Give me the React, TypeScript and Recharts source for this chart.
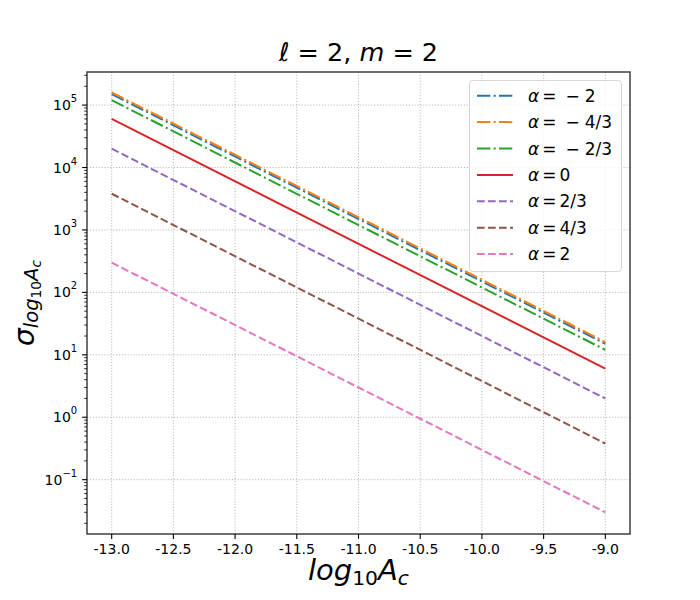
import React from 'react';
import { LineChart, Line, XAxis, YAxis, CartesianGrid, ReferenceArea } from 'recharts';

// x positions (log10 A_c)
const xValues = [-13, -9];

// sigma values per alpha, at x = -13 and x = -9
const alphaMinus2 = [1.5e5, 15];
const alphaMinus4_3 = [1.6e5, 16];
const alphaMinus2_3 = [1.2e5, 12];
const alpha0 = [6e4, 6];
const alpha2_3 = [2e4, 2];
const alpha4_3 = [3.8e3, 0.38];
const alpha2 = [300, 0.03];

const xTicks = [-13, -12.5, -12, -11.5, -11, -10.5, -10, -9.5, -9];
const yExponents = [-1, 0, 1, 2, 3, 4, 5];
const yMajorTicks = yExponents.map((e) => Math.pow(10, e));
const yMinorTicks: number[] = [];
[-2, -1, 0, 1, 2, 3, 4, 5].forEach((e) => {
  for (let k = 2; k <= 9; k++) yMinorTicks.push(k * Math.pow(10, e));
});

const X_DOMAIN = [-13.2, -8.8];
const Y_DOMAIN = [Math.pow(10, -1.87), Math.pow(10, 5.53)];
const yAllTicks = [...yMajorTicks, ...yMinorTicks].filter((v) => v >= Y_DOMAIN[0] && v <= Y_DOMAIN[1]).sort((a, b) => a - b);

const FONT = "'DejaVu Sans', sans-serif";

const DASHDOT = '13.3 3.3 2.1 3.3';
const DASHED = '7.7 3.3';

type SeriesDef = { key: string; values: number[]; color: string; dash?: string; label: string[] };

// label parts: [sign-part, number]
const series: SeriesDef[] = [
  { key: 'am2', values: alphaMinus2, color: '#1f77b4', dash: DASHDOT, label: ['−', '2'] },
  { key: 'am43', values: alphaMinus4_3, color: '#ff7f0e', dash: DASHDOT, label: ['−', '4/3'] },
  { key: 'am23', values: alphaMinus2_3, color: '#2ca02c', dash: DASHDOT, label: ['−', '2/3'] },
  { key: 'a0', values: alpha0, color: '#d62728', label: ['', '0'] },
  { key: 'a23', values: alpha2_3, color: '#9467bd', dash: DASHED, label: ['', '2/3'] },
  { key: 'a43', values: alpha4_3, color: '#8c564b', dash: DASHED, label: ['', '4/3'] },
  { key: 'a2', values: alpha2, color: '#e377c2', dash: DASHED, label: ['', '2'] },
];

const data = xValues.map((x, i) => {
  const row: Record<string, number> = { x };
  series.forEach((s) => {
    row[s.key] = s.values[i];
  });
  return row;
});

const YTick = (props: any) => {
  const { x, y, payload } = props;
  const v = payload.value as number;
  const idx = yMajorTicks.findIndex((m) => Math.abs(m - v) / m < 1e-9);
  const major = idx >= 0;
  return (
    <g>
      <line x1={x} x2={x - (major ? 4.9 : 2.8)} y1={y} y2={y} stroke="#000" strokeWidth={major ? 1.1 : 0.8} />
      {major && (
        <text x={x - 9.8} y={y} textAnchor="end" dominantBaseline="central" fontFamily={FONT} fontSize={14} fill="#000">
          10
          <tspan dy={-7} fontSize={10}>
            {yExponents[idx] < 0 ? '−' + Math.abs(yExponents[idx]) : String(yExponents[idx])}
          </tspan>
        </text>
      )}
    </g>
  );
};

const LEG = { left: 469.5, top: 80.5, width: 152, height: 191, row0: 95.7, rowStep: 26.4 };

export default function App() {
  return (
    <div style={{ position: 'absolute', left: 0, top: 0, width: 700, height: 600, background: '#fff' }}>
      <LineChart width={700} height={600} data={data} margin={{ top: 72, right: 70, bottom: 36, left: 27 }}>
        <CartesianGrid
          stroke="#b0b0b0"
          strokeWidth={0.9}
          strokeDasharray="1.1 1.8"
          horizontalValues={yMajorTicks}
          verticalValues={xTicks}
        />
        <XAxis
          dataKey="x"
          type="number"
          domain={X_DOMAIN}
          allowDataOverflow
          ticks={xTicks}
          interval={0}
          tickFormatter={(v: number) => v.toFixed(1)}
          axisLine={false}
          tickSize={4.9}
          tickMargin={4.9}
          tickLine={{ stroke: '#000', strokeWidth: 1.1 }}
          tick={{ fill: '#000', fontSize: 14, fontFamily: FONT }}
          height={30}
        />
        <YAxis
          type="number"
          scale="log"
          domain={Y_DOMAIN}
          allowDataOverflow
          ticks={yAllTicks}
          interval={0}
          axisLine={false}
          tickLine={false}
          tickSize={0}
          tickMargin={0}
          tick={<YTick />}
          width={60}
        />
        {series.map((s) => (
          <Line
            key={s.key}
            dataKey={s.key}
            type="linear"
            stroke={s.color}
            strokeWidth={2}
            strokeDasharray={s.dash}
            dot={false}
            activeDot={false}
            isAnimationActive={false}
          />
        ))}
        <ReferenceArea
          x1={X_DOMAIN[0]}
          x2={X_DOMAIN[1]}
          y1={Y_DOMAIN[0]}
          y2={Y_DOMAIN[1]}
          fill="none"
          fillOpacity={0}
          stroke="#404040"
          strokeWidth={1.5}
          ifOverflow="visible"
        />
      </LineChart>
      <svg
        width={700}
        height={600}
        style={{ position: 'absolute', left: 0, top: 0, pointerEvents: 'none' }}
        fontFamily={FONT}
      >
        {/* title */}
        <text x={358.5} y={61} textAnchor="middle" fontSize={25.5} fill="#000">
          <tspan fontStyle="italic">ℓ</tspan>
          <tspan> = 2, </tspan>
          <tspan fontStyle="italic">m</tspan>
          <tspan> = 2</tspan>
        </text>
        {/* x label */}
        <text x={358.5} y={580} textAnchor="middle" fontSize={29} fill="#000">
          <tspan fontStyle="italic">log</tspan>
          <tspan fontSize={20.3} dy={5}>10</tspan>
          <tspan fontStyle="italic" dy={-5}>A</tspan>
          <tspan fontStyle="italic" fontSize={20.3} dy={5}>c</tspan>
        </text>
        {/* y label */}
        <text
          x={0}
          y={0}
          transform="translate(34,303) rotate(-90)"
          textAnchor="middle"
          fontSize={28}
          fill="#000"
        >
          <tspan fontStyle="italic">σ</tspan>
          <tspan fontStyle="italic" fontSize={19.6} dy={4}>log</tspan>
          <tspan fontSize={13.7} dy={3}>10</tspan>
          <tspan fontStyle="italic" fontSize={19.6} dy={-3}>A</tspan>
          <tspan fontStyle="italic" fontSize={13.7} dy={3}>c</tspan>
        </text>
        {/* legend */}
        <rect
          x={LEG.left}
          y={LEG.top}
          width={LEG.width}
          height={LEG.height}
          rx={3}
          fill="#fff"
          fillOpacity={0.8}
          stroke="#d6d6d6"
          strokeWidth={1}
        />
        {series.map((s, i) => {
          const cy = LEG.row0 + i * LEG.rowStep;
          return (
            <g key={s.key}>
              <line x1={477} x2={513} y1={cy} y2={cy} stroke={s.color} strokeWidth={2} strokeDasharray={s.dash} />
              <text x={528} y={cy} dominantBaseline="central" fontSize={17} fill="#000">
                <tspan fontStyle="italic">α</tspan>
                <tspan dx={3}>=</tspan>
                {s.label[0] ? <tspan dx={9}>{s.label[0]}</tspan> : null}
                <tspan dx={s.label[0] ? 5 : 3}>{s.label[1]}</tspan>
              </text>
            </g>
          );
        })}
      </svg>
    </div>
  );
}
